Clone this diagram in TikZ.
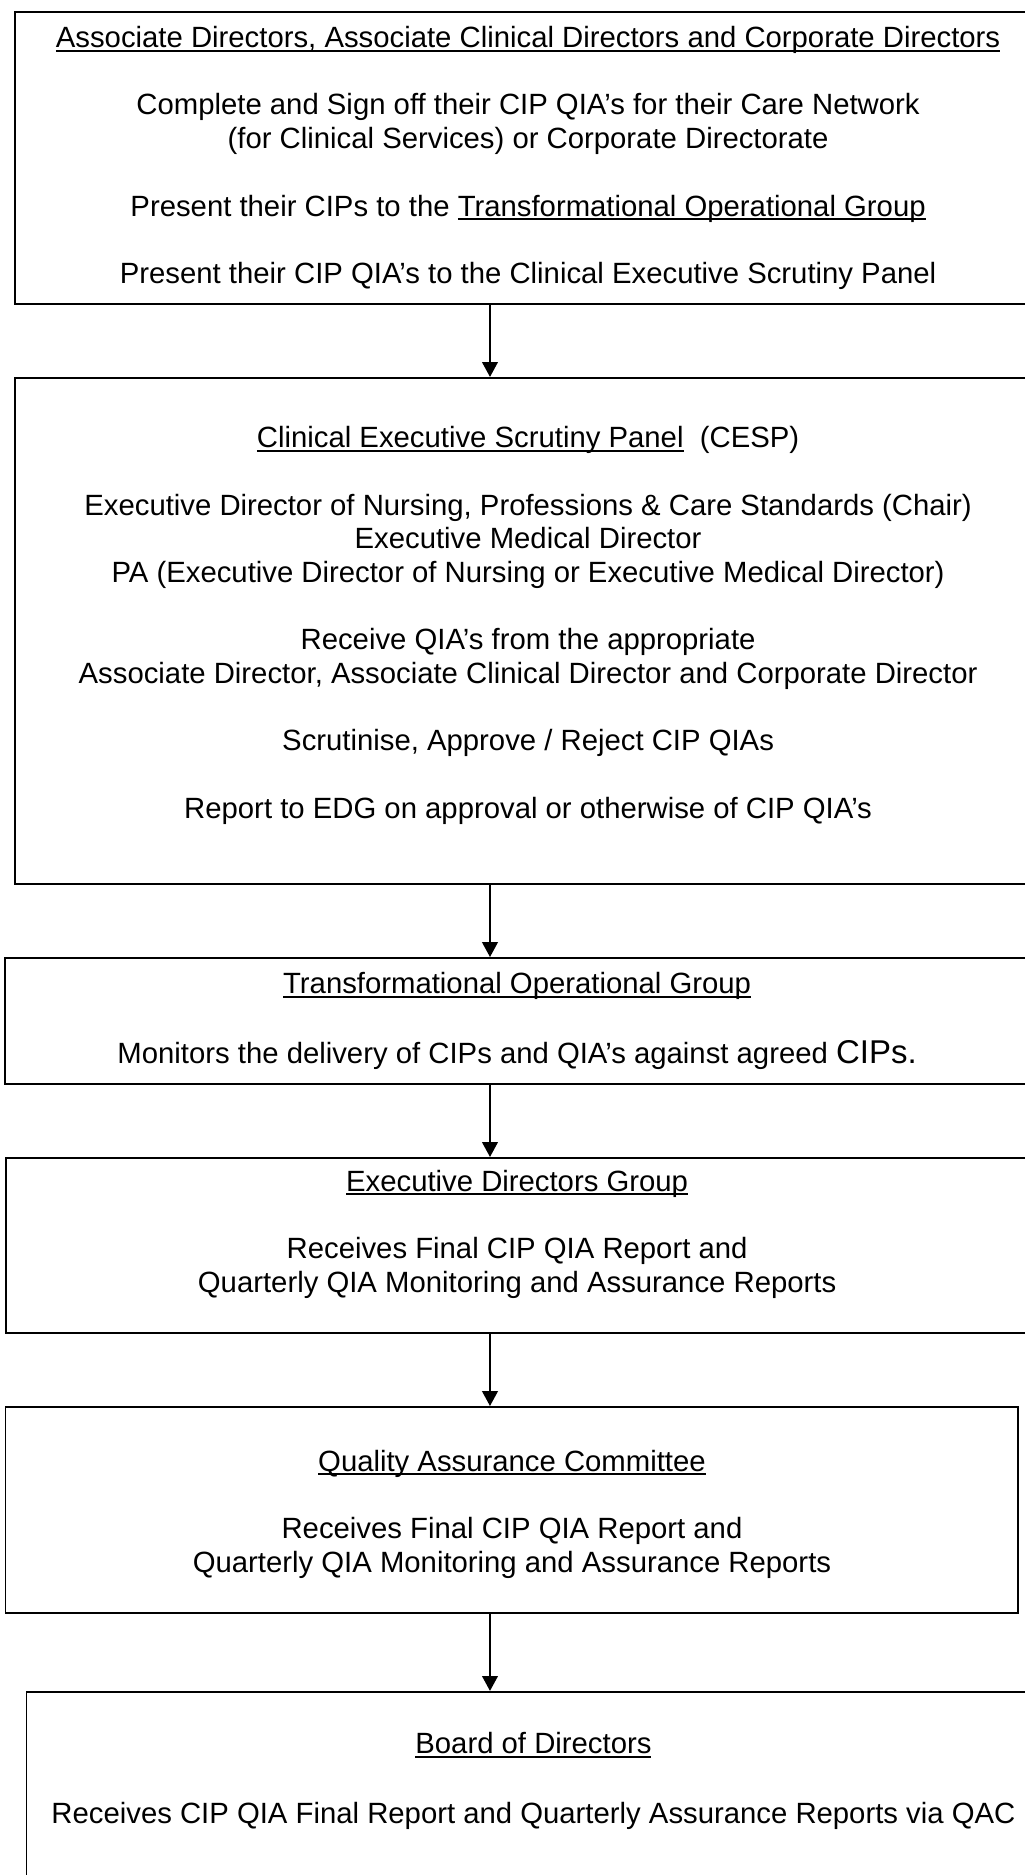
\documentclass[tikz,border=0pt]{standalone}
\usepackage{fontspec}
\setmainfont{Liberation Sans}
\usetikzlibrary{arrows.meta, positioning}

% underline at a fixed depth, descenders cross it
\newcommand{\undl}[1]{\sbox0{#1}\rlap{\rule[-1.7pt]{\wd0}{0.85pt}}\usebox0}

\begin{document}
\begin{tikzpicture}[
    font=\fontsize{12}{13.8}\selectfont,
    node distance=29.5pt,
    box/.style={draw, line width=0.8pt, align=center, inner sep=0pt},
    arr/.style={-{Triangle[length=6.1pt, width=6.4pt]}, line width=0.8pt},
  ]
    \useasboundingbox (0,0) rectangle (419.8pt,-768pt);
    \clip (0,0) rectangle (419.8pt,-768pt);

    \node[box, minimum width=420.3pt, minimum height=119.6pt, anchor=north] (b1) at (216.3pt,-4.5pt)
      {\undl{Associate Directors, Associate Clinical Directors and Corporate Directors}\\[13.8pt]
       Complete and Sign off their CIP QIA’s for their Care Network\\
       (for Clinical Services) or Corporate Directorate\\[13.8pt]
       Present their CIPs to the \undl{Transformational Operational Group}\\[13.8pt]
       Present their CIP QIA’s to the Clinical Executive Scrutiny Panel};
    \node[box, minimum width=420.3pt, minimum height=207.3pt, below=of b1] (b2)
      {\undl{Clinical Executive Scrutiny Panel}\ \ (CESP)\\[13.8pt]
       Executive Director of Nursing, Professions \& Care Standards (Chair)\\
       Executive Medical Director\\
       PA (Executive Director of Nursing or Executive Medical Director)\\[13.8pt]
       Receive QIA’s from the appropriate\\
       Associate Director, Associate Clinical Director and Corporate Director\\[13.8pt]
       Scrutinise, Approve / Reject CIP QIAs\\[13.8pt]
       Report to EDG on approval or otherwise of CIP QIA’s\rule[-7pt]{0pt}{7pt}};
    \node[box, minimum width=419.4pt, minimum height=51.6pt, below=of b2, xshift=-4.5pt] (b3)
      {\undl{Transformational Operational Group}\\[14.8pt]
       Monitors the delivery of CIPs and QIA’s against agreed {\fontsize{13.5}{13.8}\selectfont CIPs.}};
    \node[box, minimum width=419pt, minimum height=71.7pt, below=of b3] (b4)
      {\undl{Executive Directors Group}\\[13.8pt]
       Receives Final CIP QIA Report and\\
       Quarterly QIA Monitoring and Assurance Reports\rule[-11.9pt]{0pt}{11.9pt}};
    \node[box, minimum width=414.9pt, minimum height=84.4pt, below=of b4, xshift=-2.1pt] (b5)
      {\rule{0pt}{12.2pt}\undl{Quality Assurance Committee}\\[13.8pt]
       Receives Final CIP QIA Report and\\
       Quarterly QIA Monitoring and Assurance Reports};
    \node[box, minimum width=415.3pt, minimum height=84pt, below=31.5pt of b5, xshift=8.8pt] (b6)
      {\undl{Board of Directors}\\[14.8pt]
       Receives CIP QIA Final Report and Quarterly Assurance Reports via QAC\rule[-13.4pt]{0pt}{13.4pt}};

    % all arrows run down one vertical
    \coordinate (ax) at (200.7pt,0);
    \draw[arr] (b1.south -| ax) -- (b2.north -| ax);
    \draw[arr] (b2.south -| ax) -- (b3.north -| ax);
    \draw[arr] (b3.south -| ax) -- (b4.north -| ax);
    \draw[arr] (b4.south -| ax) -- (b5.north -| ax);
    \draw[arr] (b5.south -| ax) -- (b6.north -| ax);
  \end{tikzpicture}
\end{document}
